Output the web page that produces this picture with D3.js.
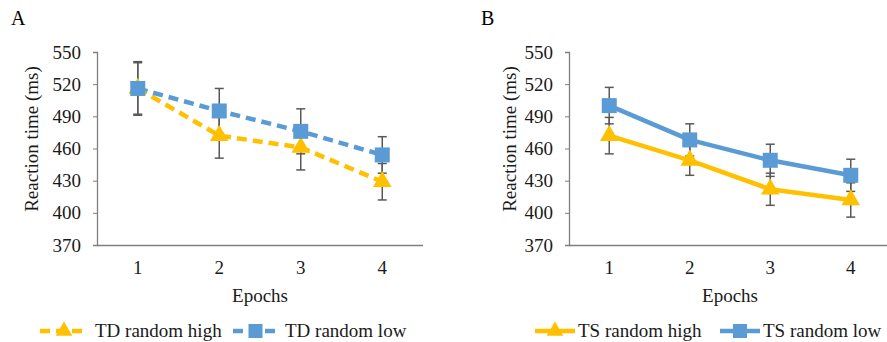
<!DOCTYPE html>
<html><head><meta charset="utf-8">
<script src="https://cdn.jsdelivr.net/npm/d3@7"></script>
<style>body{margin:0;background:#fff}svg{display:block}svg text{font-family:"Liberation Serif","DejaVu Serif","Times New Roman",serif !important}</style>
</head><body><svg id="c" width="887" height="342"></svg>
<script>
const epochs = ["1","2","3","4"];
const yTicks = [370,400,430,460,490,520,550];
const tdHigh = [516,472,461,429];
const tdHighErr = [25,21,21,17];
const tdLow = [516,495,476,454];
const tdLowErr = [24,21,21,17];
const tsHigh = [472,449,422,412];
const tsHighErr = [17,14,15,16];
const tsLow = [500,468,449,435];
const tsLowErr = [17,15,15,15];

const yellow = "#FFC000", blue = "#5B9BD5", grey = "#595959";
const svg = d3.select("#c");
const FS = 19;

function panel(opt){
  const g = svg.append("g");
  const x = d3.scaleBand().domain(epochs).range([opt.x0, opt.x1]);
  const y = d3.scaleLinear().domain([370,550]).range([245,52]);
  const cx = d => x(d) + x.bandwidth()/2;
  g.append("text").attr("x", opt.lx).attr("y", 25).attr("font-size", 20).attr("fill","#000").text(opt.letter);
  const ya = g.append("g").attr("transform",`translate(${opt.x0},0)`).call(d3.axisLeft(y).tickValues(yTicks).tickSize(4).tickPadding(12));
  ya.select(".domain").attr("stroke","#7f7f7f").attr("stroke-width",1.3);
  ya.selectAll(".tick line").attr("stroke","#7f7f7f");
  ya.selectAll("text").attr("font-size",FS).attr("fill","#1a1a1a");
  const xa = g.append("g").attr("transform","translate(0,245)").call(d3.axisBottom(x).tickSize(0).tickPadding(16));
  xa.select(".domain").attr("stroke","#7f7f7f").attr("stroke-width",1.3).attr("d",`M${opt.x0},0.5H${opt.x1}`);
  xa.selectAll("text").attr("font-size",FS).attr("fill","#1a1a1a");
  g.append("text").attr("x",(opt.x0+opt.x1)/2).attr("y",302).attr("text-anchor","middle").attr("font-size",FS).attr("fill","#1a1a1a").text("Epochs");
  g.append("text").attr("transform",`translate(${opt.x0-opt.yl},139) rotate(-90)`).attr("text-anchor","middle").attr("font-size",FS).attr("fill","#1a1a1a").text("Reaction time (ms)");

  const series = opt.series;
  series.forEach(s=>{
    const line = d3.line().x((d,i)=>cx(epochs[i])).y(d=>y(d));
    g.append("path").datum(s.vals).attr("d",line).attr("fill","none").attr("stroke",s.color).attr("stroke-width",4.5)
      .attr("stroke-dasharray", opt.dashed ? "10,6" : null).attr("stroke-linejoin","round");
  });
  series.forEach(s=>{
    s.vals.forEach((v,i)=>{
      const xx = cx(epochs[i]);
      const e = s.err[i];
      g.append("line").attr("x1",xx).attr("x2",xx).attr("y1",y(v+e)).attr("y2",y(v-e)).attr("stroke",grey).attr("stroke-width",1.5);
      [v+e, v-e].forEach(t=>g.append("line").attr("x1",xx-4.5).attr("x2",xx+4.5).attr("y1",y(t)).attr("y2",y(t)).attr("stroke",grey).attr("stroke-width",1.5));
    });
  });
  series.forEach(s=>{
    s.vals.forEach((v,i)=>{
      const xx = cx(epochs[i]), yy = y(v);
      if(s.shape==="tri"){
        g.append("path").attr("d",d3.symbol(d3.symbolTriangle,150)()).attr("transform",`translate(${xx},${yy})`).attr("fill",s.color);
      } else {
        g.append("rect").attr("x",xx-7.5).attr("y",yy-7.5).attr("width",15).attr("height",15).attr("fill",s.color);
      }
    });
  });
  series.forEach(s=>{
    const ly = 331;
    g.append("line").attr("x1",s.lg[0]).attr("x2",s.lg[1]).attr("y1",ly).attr("y2",ly).attr("stroke",s.color).attr("stroke-width",4.5)
      .attr("stroke-dasharray", opt.dashed ? "10,6" : null);
    const mx = (s.lg[0]+s.lg[1])/2;
    if(s.shape==="tri") g.append("path").attr("d",d3.symbol(d3.symbolTriangle,120)()).attr("transform",`translate(${mx},${ly})`).attr("fill",s.color);
    else g.append("rect").attr("x",mx-7).attr("y",ly-7).attr("width",14).attr("height",14).attr("fill",s.color);
    g.append("text").attr("x",s.lg[1]+opt.lgap).attr("y",ly+6).attr("font-size",FS).attr("fill","#1a1a1a").text(s.name);
  });
}

panel({letter:"A", lx:11, x0:97, x1:423, yl:59, lgap:7, dashed:true, series:[
  {name:"TD random high", vals:tdHigh, err:tdHighErr, color:yellow, shape:"tri", lg:[40,88]},
  {name:"TD random low", vals:tdLow, err:tdLowErr, color:blue, shape:"sq", lg:[233,278]}
]});
panel({letter:"B", lx:481, x0:569, x1:891, yl:53, lgap:3, dashed:false, series:[
  {name:"TS random high", vals:tsHigh, err:tsHighErr, color:yellow, shape:"tri", lg:[535,575]},
  {name:"TS random low", vals:tsLow, err:tsLowErr, color:blue, shape:"sq", lg:[720,760]}
]});
</script></body></html>
